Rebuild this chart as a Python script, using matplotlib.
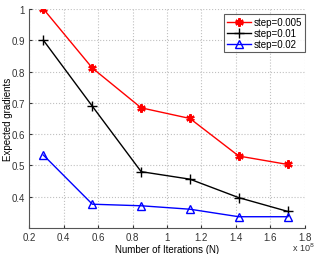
import matplotlib
matplotlib.use('Agg')
import matplotlib.pyplot as plt

plt.rcParams['font.family'] = ['Liberation Sans', 'DejaVu Sans']

# iterations (x 10^8)
iters = [0.283, 0.567, 0.850, 1.133, 1.416, 1.700]
grad_005 = [1.000, 0.811, 0.684, 0.650, 0.530, 0.503]
grad_01 = [0.900, 0.689, 0.480, 0.456, 0.397, 0.353]
grad_02 = [0.533, 0.376, 0.371, 0.360, 0.336, 0.336]
labels = ['step=0.005', 'step=0.01', 'step=0.02']

fig = plt.figure(figsize=(3.16, 2.55), dpi=100)
ax = fig.add_axes([0.092, 0.102, 0.873, 0.859])

ax.plot(iters, grad_005, color='red', lw=1.0, marker=(6, 2, 0), ms=6, mew=1.6, label=labels[0])
ax.plot(iters, grad_01, color='black', lw=1.0, marker='+', ms=7, mew=1.0, label=labels[1])
ax.plot(iters, grad_02, color='blue', lw=1.0, marker='^', ms=6, mew=1.0, mfc='none', label=labels[2])

ax.set_xlim(0.2, 1.8)
ax.set_ylim(0.3, 1.0)
ax.set_xticks([0.2, 0.4, 0.6, 0.8, 1.0, 1.2, 1.4, 1.6, 1.8])
ax.set_xticklabels(['0.2', '0.4', '0.6', '0.8', '1', '1.2', '1.4', '1.6', '1.8'])
ax.set_yticks([0.4, 0.5, 0.6, 0.7, 0.8, 0.9, 1.0])
ax.set_yticklabels(['0.4', '0.5', '0.6', '0.7', '0.8', '0.9', '1'])
ax.grid(True, linestyle=':', color='#c0c0c0', lw=0.8)
ax.spines['top'].set_visible(False)
ax.spines['right'].set_visible(False)
ax.spines['left'].set_color('#555555')
ax.spines['bottom'].set_color('#555555')
ax.tick_params(labelsize=7, length=2, direction='in', colors='#333333', pad=3)

ax.set_xlabel('Number of Iterations (N)', fontsize=7, labelpad=1)
ax.set_ylabel('Expected gradients', fontsize=7)
ax.yaxis.set_label_coords(-0.06, 0.5)
fig.text(0.925, 0.01, r'x 10$^8$', fontsize=6.5, color='#333333')

leg = ax.legend(loc='upper right', fontsize=7, frameon=True, fancybox=False,
                edgecolor='#333333', handlelength=2.4, borderpad=0.3,
                labelspacing=0.1, handletextpad=0.3, borderaxespad=0.3,
                bbox_to_anchor=(1.01, 0.99))
leg.get_frame().set_linewidth(0.8)

fig.savefig('out.png', dpi=100)
